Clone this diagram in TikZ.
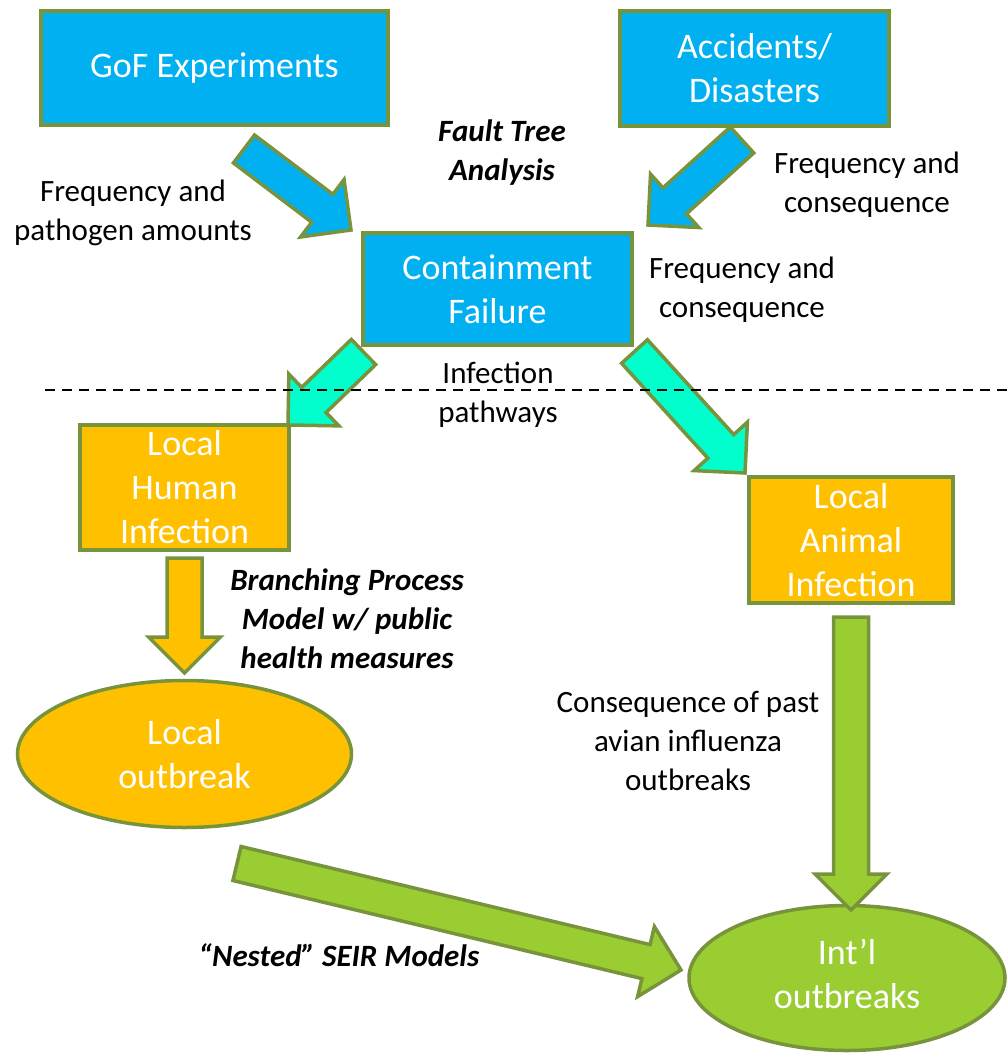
\documentclass[tikz,border=0pt]{standalone}
\usepackage{fontspec}
\setmainfont{Carlito}
\usetikzlibrary{positioning,calc,shapes.geometric}

\definecolor{boxblue}{HTML}{00B0F0}
\definecolor{rimgreen}{HTML}{77933C}
\definecolor{gold}{HTML}{FFC000}
\definecolor{aqua}{HTML}{00FFCC}
\definecolor{leaf}{HTML}{9ACD32}

% block arrow: fill colour, tail, tip
\newcommand\fatarrow[3]{%
  \coordinate (headbase) at ($(#3)!36pt!(#2)$);
  \draw[fat, fill=#1] ($(#2)!17.5pt!90:(#3)$) -- ($(headbase)!17.5pt!90:(#3)$) -- ($(headbase)!36pt!90:(#3)$) -- (#3)
    -- ($(headbase)!36pt!-90:(#3)$) -- ($(headbase)!17.5pt!-90:(#3)$) -- ($(#2)!17.5pt!-90:(#3)$) -- cycle;}

\begin{document}
\begin{tikzpicture}[x=1pt, y=-1pt, blk/.style={draw=rimgreen, line width=3.5pt, fill=boxblue, text=white, align=center, inner sep=0pt, font=\fontsize{36}{44}\selectfont}, ovl/.style={blk, ellipse}, txt/.style={align=center, font=\fontsize{31}{39}\selectfont}, mdl/.style={align=center, font=\fontsize{31}{39}\selectfont\bfseries\itshape}, fat/.style={draw=rimgreen, line width=3.5pt, line join=miter}]
		\useasboundingbox (0,0) rectangle (1007,1057);

		\node[blk, minimum width=347pt, minimum height=114pt] (gof) at (214.5,68) {GoF Experiments};
		\node[blk, minimum width=269pt, minimum height=115pt] (acc) at (754.5,68.5) {Accidents/\\Disasters};
		\node[blk, minimum width=269pt, minimum height=112pt] (cont) at (497.5,289) {Containment\\Failure};
		\node[blk, fill=gold, minimum width=209pt, minimum height=125pt] (human) at (184.5,487.5) {Local\\Human\\Infection};
		\node[blk, fill=gold, minimum width=204pt, minimum height=126pt] (animal) at (851,540) {Local\\Animal\\Infection};
		\node[ovl, fill=gold, minimum width=334pt, minimum height=147pt, below=127pt of human] (local) {Local\\outbreak};
		\node[ovl, fill=leaf, minimum width=316pt, minimum height=145pt, below=299pt of animal, xshift=-4pt] (intl) {\raisebox{-8pt}{\begin{tabular}{@{}c@{}}Int’l\\outbreaks\end{tabular}}};

		\node[txt] (freqpath) at (133,213) {Frequency and\\pathogen amounts};
		\node[mdl] (fta) at (502,153) {Fault Tree\\Analysis};
		\node[txt] (freqcons) at (867,185) {Frequency and\\consequence};
		\node[txt] (freqcons2) at (742,290) {Frequency and\\consequence};
		\node[txt] (infpath) at (498,395) {Infection\\pathways};
		\node[mdl] (branch) at (347,619) {Branching Process\\Model w/ public\\health measures};
		\node[txt] (conseq) at (688,741) {Consequence of past\\avian influenza\\outbreaks};
		\node[mdl] (nested) at (339,955) {“Nested” SEIR Models};

		\coordinate (gof_tail) at (244,149);
		\coordinate (gof_tip) at (351,230);
		\coordinate (acc_tail) at (742,140);
		\coordinate (acc_tip) at (648,225);
		\coordinate (human_tail) at (363.5,352);
		\coordinate (human_tip) at (288,425);
		\coordinate (animal_tail) at (634.5,351.5);
		\coordinate (animal_tip) at (745,473);
		\coordinate (local_tail) at (184.5,558);
		\coordinate (local_tip) at (184.5,673);
		\coordinate (intl_tail) at (851,617);
		\coordinate (intl_tip) at (851,910);
		\coordinate (nested_tail) at (237,863.5);
		\coordinate (nested_tip) at (681,970);

		\fatarrow{boxblue}{gof_tail}{gof_tip}
		\fatarrow{boxblue}{acc_tail}{acc_tip}
		\fatarrow{aqua}{human_tail}{human_tip}
		\fatarrow{aqua}{animal_tail}{animal_tip}
		\fatarrow{gold}{local_tail}{local_tip}
		\fatarrow{leaf}{intl_tail}{intl_tip}
		\fatarrow{leaf}{nested_tail}{nested_tip}

		\coordinate (cut_l) at (45,390);
		\coordinate (cut_r) at (1007,390);
		\draw[line width=1.8pt, dash pattern=on 10pt off 7pt] (cut_l) -- (cut_r);
	\end{tikzpicture}
\end{document}
